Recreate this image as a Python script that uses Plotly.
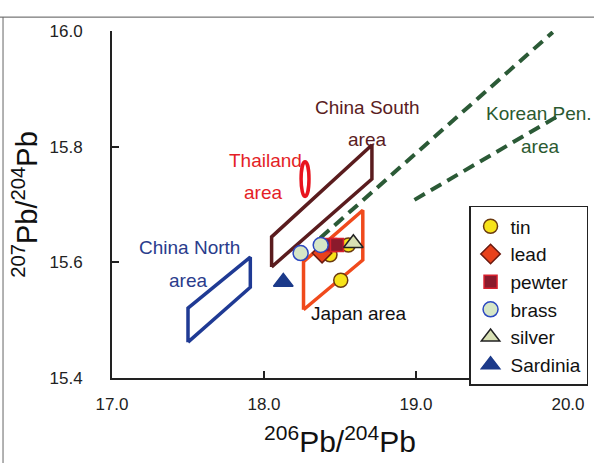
import plotly.graph_objects as go

# ---------------- data ----------------
tin_x = [18.434, 18.555, 18.505]
tin_y = [15.613, 15.630, 15.569]
lead_x = [18.382]
lead_y = [15.616]
pewter_x = [18.434, 18.480]
pewter_y = [15.630, 15.630]
brass_x = [18.241, 18.373]
brass_y = [15.616, 15.630]
silver_x = [18.588]
silver_y = [15.633]
sardinia_x = [18.127]
sardinia_y = [15.566]

china_north_x = [17.50, 17.50, 17.91, 17.91, 17.50]
china_north_y = [15.462, 15.521, 15.609, 15.557, 15.462]
china_south_x = [18.05, 18.05, 18.71, 18.71, 18.05]
china_south_y = [15.592, 15.644, 15.803, 15.744, 15.592]
japan_x = [18.26, 18.26, 18.65, 18.65, 18.26]
japan_y = [15.518, 15.601, 15.690, 15.604, 15.518]
korea_upper_x = [18.37, 19.90]
korea_upper_y = [15.642, 15.998]
korea_lower_x = [18.99, 19.96]
korea_lower_y = [15.708, 15.857]
thai_center = (18.27, 15.744)
thai_radius = (0.026, 0.030)

x_ticks = [17.0, 18.0, 19.0, 20.0]
y_ticks = [15.4, 15.6, 15.8, 16.0]

# ---------------- figure ----------------
fig = go.Figure()

def region(xs, ys, color):
    fig.add_trace(go.Scatter(x=xs, y=ys, mode="lines", showlegend=False,
                             hoverinfo="skip",
                             line=dict(color=color, width=3.5)))

region(china_north_x, china_north_y, "#1f3a94")
region(china_south_x, china_south_y, "#5a1c1e")
region(japan_x, japan_y, "#f04a1c")

for xs, ys in [(korea_upper_x, korea_upper_y), (korea_lower_x, korea_lower_y)]:
    fig.add_trace(go.Scatter(x=xs, y=ys, mode="lines", showlegend=False,
                             hoverinfo="skip",
                             line=dict(color="#2b5a36", width=4, dash="12px,7px")))

fig.add_shape(type="circle", xref="x", yref="y",
              x0=thai_center[0] - thai_radius[0], x1=thai_center[0] + thai_radius[0],
              y0=thai_center[1] - thai_radius[1], y1=thai_center[1] + thai_radius[1],
              line=dict(color="#e8141e", width=3.5))

def pts(name, xs, ys, symbol, fill, edge, size):
    fig.add_trace(go.Scatter(x=xs, y=ys, mode="markers", name=name,
                             marker=dict(symbol=symbol, size=size, color=fill,
                                         line=dict(color=edge, width=1.5))))

pts("tin", tin_x, tin_y, "circle", "#f7e31a", "#6a3a10", 14)
pts("lead", lead_x, lead_y, "diamond", "#e8421c", "#6a1a10", 15)
pts("pewter", pewter_x, pewter_y, "square", "#8a1a2c", "#d8202e", 13)
pts("brass", brass_x, brass_y, "circle", "#d6e6c6", "#2c48c0", 15)
pts("silver", silver_x, silver_y, "triangle-up", "#d8e0b4", "#222222", 17)
pts("Sardinia", sardinia_x, sardinia_y, "triangle-up", "#1c3a8a", "#1c3a8a", 17)

lab_font = "Liberation Sans, Arial, sans-serif"
labels = [
    ("China South", 18.678, 15.867, "#5a1c22"),
    ("area", 18.678, 15.812, "#5a1c22"),
    ("Korean Pen.", 19.812, 15.858, "#2b5a30"),
    ("area", 19.816, 15.801, "#2b5a30"),
    ("Thailand", 18.007, 15.776, "#e41e26"),
    ("area", 17.993, 15.720, "#e41e26"),
    ("China North", 17.513, 15.625, "#2a3c8c"),
    ("area", 17.50, 15.569, "#2a3c8c"),
    ("Japan area", 18.625, 15.512, "#111111"),
]
for t, x, y, c in labels:
    fig.add_annotation(x=x, y=y, text=t, showarrow=False, xref="x", yref="y",
                       font=dict(family=lab_font, size=19, color=c))

# scan border artifacts
fig.add_shape(type="line", xref="paper", yref="paper", x0=-0.25, x1=1.06,
              y0=1.04, y1=1.04, line=dict(color="#555555", width=1))
fig.add_shape(type="line", xref="paper", yref="paper", x0=-0.239, x1=-0.239,
              y0=-0.25, y1=1.04, line=dict(color="#666666", width=1))

tick_font = dict(family="Liberation Sans Narrow, Arial Narrow, Liberation Sans, sans-serif",
                 size=17, color="#222222")

fig.update_layout(
    width=594, height=463,
    margin=dict(l=112, r=26, t=31, b=85, autoexpand=False),
    paper_bgcolor="white", plot_bgcolor="white",
    showlegend=True,
    legend=dict(x=0.783, y=0.496, xanchor="left", yanchor="top",
                bgcolor="white", bordercolor="#222222", borderwidth=1.5,
                font=dict(family="Liberation Sans, Arial, sans-serif", size=19, color="#111111"),
                itemwidth=30, tracegroupgap=0),
    xaxis=dict(range=[17.0, 20.0], tickvals=x_ticks, automargin=False,
               ticktext=[f"{v:.1f}" for v in x_ticks],
               showgrid=False, zeroline=False, showline=True,
               linecolor="#222222", linewidth=2, ticks="inside", ticklen=7,
               tickwidth=2, tickcolor="#222222", tickfont=tick_font,
               ticklabelstandoff=10,
               title=dict(text="<sup>206</sup>Pb/<sup>204</sup>Pb",
                          font=dict(family="Liberation Sans, Arial, sans-serif", size=30, color="#111111"),
                          standoff=18)),
    yaxis=dict(range=[15.4, 16.0], tickvals=y_ticks, automargin=False,
               ticktext=[f"{v:.1f}" for v in y_ticks],
               showgrid=False, zeroline=False, showline=True,
               linecolor="#222222", linewidth=2, ticks="inside", ticklen=7,
               tickwidth=2, tickcolor="#222222", tickfont=tick_font,
               ticklabelstandoff=24,
               title=dict(text="<sup>207</sup>Pb/<sup>204</sup>Pb",
                          font=dict(family="Liberation Sans, Arial, sans-serif", size=29, color="#111111"),
                          standoff=3)),
)

fig.write_html("out.html", config={"displayModeBar": False},
               post_script="document.body.style.margin='0px';")
